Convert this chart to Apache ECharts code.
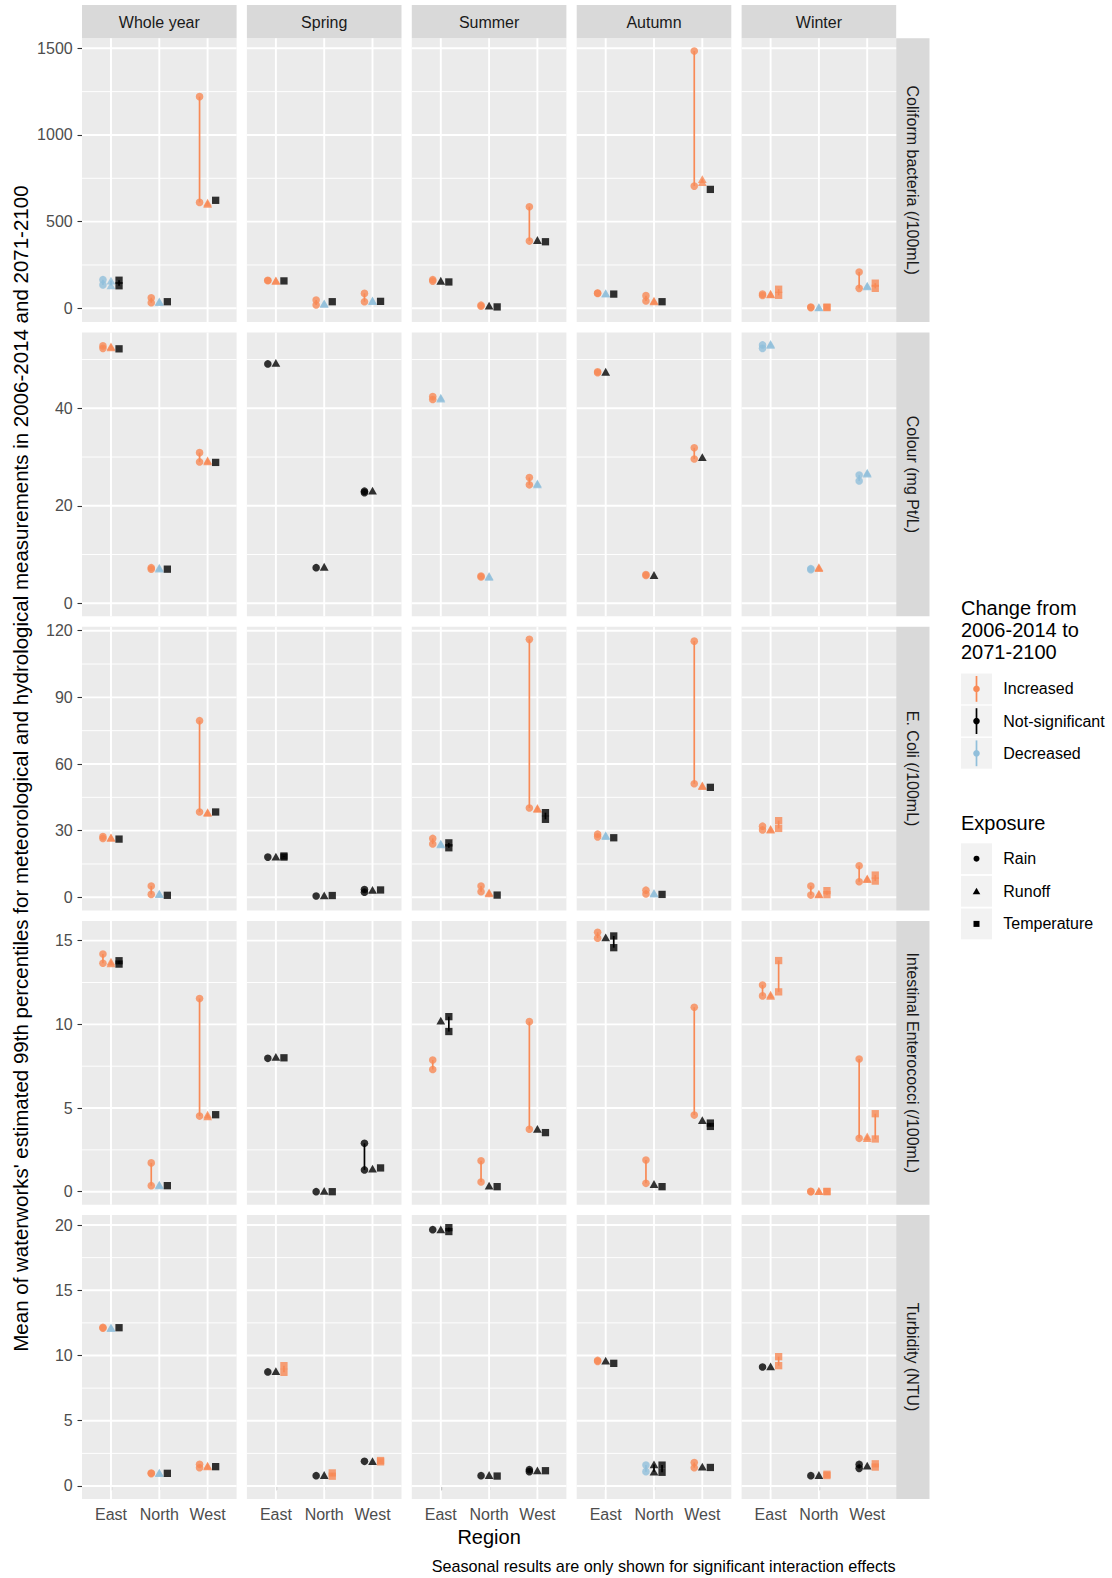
<!DOCTYPE html>
<html>
<head>
<meta charset="utf-8">
<script src="https://cdn.jsdelivr.net/npm/echarts@6/dist/echarts.min.js"></script>
<style>
  html, body { margin: 0; padding: 0; background: #ffffff; }
  #chart { width: 1112px; height: 1578px; }
</style>
</head>
<body>
<div id="chart"></div>
<script>
// ---- categories ----
const regions = ['East', 'North', 'West'];
const periods = ['Whole year', 'Spring', 'Summer', 'Autumn', 'Winter'];
const indicators = ['Coliform bacteria (/100mL)', 'Colour (mg Pt/L)', 'E. Coli (/100mL)',
  'Intestinal Enterococci (/100mL)', 'Turbidity (NTU)'];
const exposures = ['Rain', 'Runoff', 'Temperature'];
const changeLevels = ['Increased', 'Not-significant', 'Decreased'];

// ---- values: [period, region, exposure, mean 2006-2014, mean 2071-2100, change I/N/D] ----
const coliform = [
  ['Whole year','East','Rain',165,135,'D'], ['Whole year','East','Runoff',160,132,'D'], ['Whole year','East','Temperature',162,130,'N'],
  ['Whole year','North','Rain',32,61,'I'], ['Whole year','North','Runoff',40,36,'D'], ['Whole year','North','Temperature',38,38,'N'],
  ['Whole year','West','Rain',611,1221,'I'], ['Whole year','West','Runoff',603,610,'I'], ['Whole year','West','Temperature',623,623,'N'],
  ['Spring','East','Rain',159,162,'I'], ['Spring','East','Runoff',158,161,'I'], ['Spring','East','Temperature',158,158,'N'],
  ['Spring','North','Rain',19,48,'I'], ['Spring','North','Runoff',28,25,'D'], ['Spring','North','Temperature',38,38,'N'],
  ['Spring','West','Rain',38,86,'I'], ['Spring','West','Runoff',45,42,'D'], ['Spring','West','Temperature',40,40,'N'],
  ['Summer','East','Rain',157,165,'I'], ['Summer','East','Runoff',159,159,'N'], ['Summer','East','Temperature',152,152,'N'],
  ['Summer','North','Rain',12,18,'I'], ['Summer','North','Runoff',15,15,'N'], ['Summer','North','Temperature',8,8,'N'],
  ['Summer','West','Rain',388,586,'I'], ['Summer','West','Runoff',394,394,'N'], ['Summer','West','Temperature',384,384,'N'],
  ['Autumn','East','Rain',86,88,'I'], ['Autumn','East','Runoff',88,85,'D'], ['Autumn','East','Temperature',82,82,'N'],
  ['Autumn','North','Rain',42,73,'I'], ['Autumn','North','Runoff',40,44,'I'], ['Autumn','North','Temperature',38,38,'N'],
  ['Autumn','West','Rain',705,1484,'I'], ['Autumn','West','Runoff',728,745,'I'], ['Autumn','West','Temperature',686,686,'N'],
  ['Winter','East','Rain',74,82,'I'], ['Winter','East','Runoff',80,84,'I'], ['Winter','East','Temperature',75,110,'I'],
  ['Winter','North','Rain',4,7,'I'], ['Winter','North','Runoff',7,5,'D'], ['Winter','North','Temperature',4,7,'I'],
  ['Winter','West','Rain',115,209,'I'], ['Winter','West','Runoff',131,127,'D'], ['Winter','West','Temperature',115,145,'I']
];
const colour = [
  ['Whole year','East','Rain',52.3,52.8,'I'], ['Whole year','East','Runoff',52.5,52.7,'I'], ['Whole year','East','Temperature',52.2,52.2,'N'],
  ['Whole year','North','Rain',7.0,7.3,'I'], ['Whole year','North','Runoff',7.3,7.1,'D'], ['Whole year','North','Temperature',7.0,7.0,'N'],
  ['Whole year','West','Rain',29.0,30.9,'I'], ['Whole year','West','Runoff',29.1,29.3,'I'], ['Whole year','West','Temperature',28.9,28.9,'N'],
  ['Spring','East','Rain',49.1,49.1,'N'], ['Spring','East','Runoff',49.3,49.3,'N'],
  ['Spring','North','Rain',7.3,7.3,'N'], ['Spring','North','Runoff',7.5,7.5,'N'],
  ['Spring','West','Rain',22.7,23.0,'N'], ['Spring','West','Runoff',23.1,23.1,'N'],
  ['Summer','East','Rain',41.8,42.4,'I'], ['Summer','East','Runoff',42.2,42.0,'D'],
  ['Summer','North','Rain',5.4,5.6,'I'], ['Summer','North','Runoff',5.6,5.4,'D'],
  ['Summer','West','Rain',24.3,25.8,'I'], ['Summer','West','Runoff',24.6,24.4,'D'],
  ['Autumn','East','Rain',47.3,47.5,'I'], ['Autumn','East','Runoff',47.5,47.5,'N'],
  ['Autumn','North','Rain',5.7,5.9,'I'], ['Autumn','North','Runoff',5.8,5.8,'N'],
  ['Autumn','West','Rain',29.6,31.9,'I'], ['Autumn','West','Runoff',30.0,30.0,'N'],
  ['Winter','East','Rain',53.0,52.3,'D'], ['Winter','East','Runoff',53.2,53.0,'D'],
  ['Winter','North','Rain',7.1,6.9,'D'], ['Winter','North','Runoff',7.2,7.4,'I'],
  ['Winter','West','Rain',26.3,25.1,'D'], ['Winter','West','Runoff',26.8,26.6,'D']
];
const ecoli = [
  ['Whole year','East','Rain',26.5,27.3,'I'], ['Whole year','East','Runoff',26.8,27.0,'I'], ['Whole year','East','Temperature',26.2,26.2,'N'],
  ['Whole year','North','Rain',1.3,5.1,'I'], ['Whole year','North','Runoff',1.7,1.4,'D'], ['Whole year','North','Temperature',0.9,0.9,'N'],
  ['Whole year','West','Rain',38.4,79.5,'I'], ['Whole year','West','Runoff',38.0,38.3,'I'], ['Whole year','West','Temperature',38.4,38.4,'N'],
  ['Spring','East','Rain',18.1,18.1,'N'], ['Spring','East','Runoff',18.3,18.3,'N'], ['Spring','East','Temperature',18.1,18.6,'N'],
  ['Spring','North','Rain',0.6,0.6,'N'], ['Spring','North','Runoff',0.9,0.9,'N'], ['Spring','North','Temperature',0.8,0.8,'N'],
  ['Spring','West','Rain',2.3,3.5,'N'], ['Spring','West','Runoff',3.3,3.3,'N'], ['Spring','West','Temperature',3.3,3.3,'N'],
  ['Summer','East','Rain',24.0,26.5,'I'], ['Summer','East','Runoff',24.2,23.8,'D'], ['Summer','East','Temperature',22.3,24.5,'N'],
  ['Summer','North','Rain',2.5,5.1,'I'], ['Summer','North','Runoff',1.8,2.2,'I'], ['Summer','North','Temperature',1.0,1.0,'N'],
  ['Summer','West','Rain',40.2,116.1,'I'], ['Summer','West','Runoff',39.8,40.2,'I'], ['Summer','West','Temperature',35.1,38.1,'N'],
  ['Autumn','East','Rain',27.2,28.4,'I'], ['Autumn','East','Runoff',28.0,27.6,'D'], ['Autumn','East','Temperature',26.8,26.8,'N'],
  ['Autumn','North','Rain',1.5,3.2,'I'], ['Autumn','North','Runoff',2.0,1.7,'D'], ['Autumn','North','Temperature',1.3,1.3,'N'],
  ['Autumn','West','Rain',51.1,115.3,'I'], ['Autumn','West','Runoff',50.0,50.4,'I'], ['Autumn','West','Temperature',49.5,49.5,'N'],
  ['Winter','East','Rain',30.3,32.0,'I'], ['Winter','East','Runoff',30.5,30.8,'I'], ['Winter','East','Temperature',31.0,34.5,'I'],
  ['Winter','North','Rain',1.0,5.1,'I'], ['Winter','North','Runoff',1.3,1.6,'I'], ['Winter','North','Temperature',1.2,3.0,'I'],
  ['Winter','West','Rain',7.0,14.2,'I'], ['Winter','West','Runoff',8.2,8.5,'I'], ['Winter','West','Temperature',7.3,10.0,'I']
];
const enterococci = [
  ['Whole year','East','Rain',13.65,14.2,'I'], ['Whole year','East','Runoff',13.65,13.75,'I'], ['Whole year','East','Temperature',13.6,13.8,'N'],
  ['Whole year','North','Rain',0.36,1.72,'I'], ['Whole year','North','Runoff',0.42,0.38,'D'], ['Whole year','North','Temperature',0.36,0.36,'N'],
  ['Whole year','West','Rain',4.52,11.54,'I'], ['Whole year','West','Runoff',4.5,4.6,'I'], ['Whole year','West','Temperature',4.6,4.6,'N'],
  ['Spring','East','Rain',7.97,7.97,'N'], ['Spring','East','Runoff',8.05,8.05,'N'], ['Spring','East','Temperature',8.0,8.0,'N'],
  ['Spring','North','Rain',0.0,0.0,'N'], ['Spring','North','Runoff',0.05,0.05,'N'], ['Spring','North','Temperature',0.0,0.0,'N'],
  ['Spring','West','Rain',1.3,2.89,'N'], ['Spring','West','Runoff',1.38,1.38,'N'], ['Spring','West','Temperature',1.42,1.42,'N'],
  ['Summer','East','Rain',7.3,7.87,'I'], ['Summer','East','Runoff',10.22,10.22,'N'], ['Summer','East','Temperature',9.57,10.46,'N'],
  ['Summer','North','Rain',0.58,1.85,'I'], ['Summer','North','Runoff',0.36,0.36,'N'], ['Summer','North','Temperature',0.3,0.3,'N'],
  ['Summer','West','Rain',3.73,10.16,'I'], ['Summer','West','Runoff',3.75,3.75,'N'], ['Summer','West','Temperature',3.53,3.53,'N'],
  ['Autumn','East','Rain',15.15,15.5,'I'], ['Autumn','East','Runoff',15.2,15.2,'N'], ['Autumn','East','Temperature',14.58,15.28,'N'],
  ['Autumn','North','Rain',0.5,1.89,'I'], ['Autumn','North','Runoff',0.46,0.46,'N'], ['Autumn','North','Temperature',0.3,0.3,'N'],
  ['Autumn','West','Rain',4.58,11.02,'I'], ['Autumn','West','Runoff',4.28,4.28,'N'], ['Autumn','West','Temperature',3.9,4.1,'N'],
  ['Winter','East','Rain',11.7,12.35,'I'], ['Winter','East','Runoff',11.7,11.78,'I'], ['Winter','East','Temperature',11.94,13.81,'I'],
  ['Winter','North','Rain',0.0,0.02,'I'], ['Winter','North','Runoff',0.03,0.05,'I'], ['Winter','North','Temperature',0.0,0.02,'I'],
  ['Winter','West','Rain',3.19,7.93,'I'], ['Winter','West','Runoff',3.2,3.3,'I'], ['Winter','West','Temperature',3.15,4.66,'I']
];
const turbidity = [
  ['Whole year','East','Rain',12.1,12.15,'I'], ['Whole year','East','Runoff',12.15,12.1,'D'], ['Whole year','East','Temperature',12.13,12.13,'N'],
  ['Whole year','North','Rain',0.95,0.99,'I'], ['Whole year','North','Runoff',1.02,0.98,'D'], ['Whole year','North','Temperature',0.97,0.97,'N'],
  ['Whole year','West','Rain',1.4,1.66,'I'], ['Whole year','West','Runoff',1.5,1.56,'I'], ['Whole year','West','Temperature',1.48,1.48,'N'],
  ['Spring','East','Rain',8.74,8.74,'N'], ['Spring','East','Runoff',8.81,8.81,'N'], ['Spring','East','Temperature',8.71,9.22,'I'],
  ['Spring','North','Rain',0.79,0.79,'N'], ['Spring','North','Runoff',0.84,0.84,'N'], ['Spring','North','Temperature',0.75,1.0,'I'],
  ['Spring','West','Rain',1.89,1.89,'N'], ['Spring','West','Runoff',1.9,1.9,'N'], ['Spring','West','Temperature',1.85,1.95,'I'],
  ['Summer','East','Rain',19.64,19.64,'N'], ['Summer','East','Runoff',19.67,19.67,'N'], ['Summer','East','Temperature',19.5,19.8,'N'],
  ['Summer','North','Rain',0.79,0.79,'N'], ['Summer','North','Runoff',0.84,0.84,'N'], ['Summer','North','Temperature',0.76,0.76,'N'],
  ['Summer','West','Rain',1.1,1.25,'N'], ['Summer','West','Runoff',1.2,1.2,'N'], ['Summer','West','Temperature',1.17,1.17,'N'],
  ['Autumn','East','Rain',9.55,9.62,'I'], ['Autumn','East','Runoff',9.6,9.6,'N'], ['Autumn','East','Temperature',9.4,9.4,'N'],
  ['Autumn','North','Rain',1.6,1.1,'D'], ['Autumn','North','Runoff',1.1,1.65,'N'], ['Autumn','North','Temperature',1.05,1.6,'N'],
  ['Autumn','West','Rain',1.4,1.8,'I'], ['Autumn','West','Runoff',1.48,1.48,'N'], ['Autumn','West','Temperature',1.42,1.42,'N'],
  ['Winter','East','Rain',9.12,9.12,'N'], ['Winter','East','Runoff',9.17,9.17,'N'], ['Winter','East','Temperature',9.22,9.91,'I'],
  ['Winter','North','Rain',0.79,0.79,'N'], ['Winter','North','Runoff',0.84,0.84,'N'], ['Winter','North','Temperature',0.8,0.9,'I'],
  ['Winter','West','Rain',1.35,1.65,'N'], ['Winter','West','Runoff',1.56,1.56,'N'], ['Winter','West','Temperature',1.45,1.7,'I']
];

// ---- tick labels and axis limits per indicator row ----
const coliformTicks = [0, 500, 1000, 1500];
const colourTicks = [0, 20, 40];
const ecoliTicks = [0, 30, 60, 90, 120];
const enterococciTicks = [0, 5, 10, 15];
const turbidityTicks = [0, 5, 10, 15, 20];
const coliformLimits = [-79.6, 1557.7];
const colourLimits = [-2.67, 55.55];
const ecoliLimits = [-5.94, 121.8];
const enterococciLimits = [-0.777, 16.18];
const turbidityLimits = [-0.99, 20.76];

const rows = [
  { data: coliform, ticks: coliformTicks, limits: coliformLimits },
  { data: colour, ticks: colourTicks, limits: colourLimits },
  { data: ecoli, ticks: ecoliTicks, limits: ecoliLimits },
  { data: enterococci, ticks: enterococciTicks, limits: enterococciLimits },
  { data: turbidity, ticks: turbidityTicks, limits: turbidityLimits }
];

// ---- layout and styling ----
const FONT = '"Liberation Sans", Arial, Helvetica, sans-serif';
const L = { left: 82, top: 38.3, w: 154.6, h: 283.8, dx: 164.9, dy: 294.2, strip: 33.3 };
const X_LIMITS = [0.4, 3.6];
const DODGE = 0.5;
const CHANGE_COLOR = { I: '#F88A56', N: '#000000', D: '#91BFDB' };
const SYMBOLS = ['circle', 'triangle', 'rect'];
const SYMBOL_SIZES = [7.6, [8.8, 7.8], 7.3];

function minorTicks(major, limits) {
  const step = major[1] - major[0];
  const out = [];
  for (let v = major[0] - step / 2; v <= major[major.length - 1] + step / 2 + 1e-9; v += step) {
    if (v > limits[0] && v < limits[1]) out.push(v);
  }
  return out;
}

const grid = [], xAxis = [], yAxis = [], series = [], graphic = [];

rows.forEach((row, r) => {
  const minors = minorTicks(row.ticks, row.limits);
  const bottomRow = r === rows.length - 1;
  periods.forEach((period, c) => {
    const gi = r * periods.length + c;
    grid.push({
      left: L.left + c * L.dx, top: L.top + r * L.dy, width: L.w, height: L.h,
      show: true, backgroundColor: '#EBEBEB', borderWidth: 0,
      containLabel: false, outerBoundsMode: 'none'
    });
    xAxis.push({
      gridIndex: gi, type: 'value', min: X_LIMITS[0], max: X_LIMITS[1],
      axisLine: { show: false }, splitLine: { show: false },
      axisTick: bottomRow
        ? { show: true, length: 4.5, customValues: [1, 2, 3], lineStyle: { color: '#333333', width: 1.1 } }
        : { show: false },
      axisLabel: bottomRow
        ? { show: true, customValues: [1, 2, 3], margin: 8, formatter: v => regions[Math.round(v) - 1],
            color: '#4D4D4D', fontSize: 16, fontFamily: FONT }
        : { show: false }
    });
    yAxis.push({
      gridIndex: gi, type: 'value', min: row.limits[0], max: row.limits[1],
      axisLine: { show: false }, splitLine: { show: false },
      axisTick: c === 0
        ? { show: true, length: 4.5, customValues: row.ticks, lineStyle: { color: '#333333', width: 1.1 } }
        : { show: false },
      axisLabel: c === 0
        ? { show: true, customValues: row.ticks, margin: 9.3, formatter: v => String(v),
            color: '#4D4D4D', fontSize: 16, fontFamily: FONT }
        : { show: false }
    });

    // panel grid lines: [orientation 0 = horizontal / 1 = vertical, value, major flag]
    const lines = row.ticks.map(v => [0, v, 1])
      .concat(minors.map(v => [0, v, 0]))
      .concat([1, 2, 3].map(v => [1, v, 1]));
    series.push({
      type: 'custom', xAxisIndex: gi, yAxisIndex: gi, z: 1, silent: true, animation: false,
      data: lines,
      renderItem: (params, api) => {
        const vertical = api.value(0) === 1, v = api.value(1), major = api.value(2) === 1;
        const p1 = vertical ? api.coord([v, row.limits[0]]) : api.coord([X_LIMITS[0], v]);
        const p2 = vertical ? api.coord([v, row.limits[1]]) : api.coord([X_LIMITS[1], v]);
        return { type: 'line', shape: { x1: p1[0], y1: p1[1], x2: p2[0], y2: p2[1] },
          style: { stroke: '#FFFFFF', lineWidth: major ? 1.9 : 0.95 } };
      }
    });

    const rowsHere = row.data.filter(d => d[0] === period);
    const xOf = d => regions.indexOf(d[1]) + 1 + (exposures.indexOf(d[2]) - 1) * DODGE / exposures.length;

    // change segments between the two periods
    const segs = rowsHere.filter(d => d[3] !== d[4]).map(d => [xOf(d), d[3], d[4], 'IND'.indexOf(d[5])]);
    if (segs.length) {
      series.push({
        type: 'custom', xAxisIndex: gi, yAxisIndex: gi, z: 2, silent: true, animation: false,
        data: segs,
        renderItem: (params, api) => {
          const a = api.coord([api.value(0), api.value(1)]);
          const b = api.coord([api.value(0), api.value(2)]);
          const col = CHANGE_COLOR['IND'[api.value(3)]];
          return { type: 'line', shape: { x1: a[0], y1: a[1], x2: b[0], y2: b[1] },
            style: { stroke: col, lineWidth: 1.7 } };
        }
      });
    }

    // period means, one scatter per exposure shape
    exposures.forEach((ex, j) => {
      const pts = [];
      rowsHere.filter(d => d[2] === ex).forEach(d => {
        const color = CHANGE_COLOR[d[5]];
        pts.push({ value: [xOf(d), d[3]], itemStyle: { color } });
        if (d[4] !== d[3]) pts.push({ value: [xOf(d), d[4]], itemStyle: { color } });
      });
      if (!pts.length) return;
      series.push({
        type: 'scatter', name: ex, xAxisIndex: gi, yAxisIndex: gi, z: 3, silent: true, animation: false,
        symbol: SYMBOLS[j], symbolSize: SYMBOL_SIZES[j], data: pts
      });
    });
  });
});

// ---- facet strips ----
periods.forEach((p, c) => {
  const x = L.left + c * L.dx;
  graphic.push({ type: 'rect', shape: { x: x, y: L.top - L.strip, width: L.w, height: L.strip },
    style: { fill: '#D9D9D9' }, silent: true });
  graphic.push({ type: 'text', x: x + L.w / 2, y: L.top - L.strip / 2 + 0.5,
    style: { text: p, fill: '#1A1A1A', font: '16px ' + FONT, textAlign: 'center', textVerticalAlign: 'middle' }, silent: true });
});
const stripX = L.left + 4 * L.dx + L.w;
indicators.forEach((name, r) => {
  const y = L.top + r * L.dy;
  graphic.push({ type: 'rect', shape: { x: stripX, y: y, width: L.strip, height: L.h },
    style: { fill: '#D9D9D9' }, silent: true });
  graphic.push({ type: 'text', x: stripX + L.strip / 2 - 0.5, y: y + L.h / 2, rotation: -Math.PI / 2,
    style: { text: name, fill: '#1A1A1A', font: '16px ' + FONT, textAlign: 'center', textVerticalAlign: 'middle' }, silent: true });
});

// ---- axis titles and caption ----
const panelsBottom = L.top + 4 * L.dy + L.h;
graphic.push({ type: 'text', x: (L.left + stripX) / 2, y: 1537,
  style: { text: 'Region', fill: '#000000', font: '20px ' + FONT, textAlign: 'center', textVerticalAlign: 'middle' }, silent: true });
graphic.push({ type: 'text', x: 20, y: (L.top + panelsBottom) / 2, rotation: Math.PI / 2,
  style: { text: "Mean of waterworks' estimated 99th percentiles for meteorological and hydrological measurements in 2006-2014 and 2071-2100",
    fill: '#000000', font: '20.5px ' + FONT, textAlign: 'center', textVerticalAlign: 'middle' }, silent: true });
graphic.push({ type: 'text', x: stripX - 0.5, y: 1566,
  style: { text: 'Seasonal results are only shown for significant interaction effects',
    fill: '#000000', font: '16.2px ' + FONT, textAlign: 'right', textVerticalAlign: 'middle' }, silent: true });

// ---- legends ----
const LEG = { x: 961, keyW: 31, keyH: 30.8, step: 32.2, labelX: 1003.3 };
['Change from', '2006-2014 to', '2071-2100'].forEach((t, i) => {
  graphic.push({ type: 'text', x: LEG.x, y: 608 + i * 22,
    style: { text: t, fill: '#000000', font: '20px ' + FONT, textAlign: 'left', textVerticalAlign: 'middle' }, silent: true });
});
changeLevels.forEach((lab, i) => {
  const top = 673.5 + i * LEG.step, cx = LEG.x + LEG.keyW / 2, cy = top + LEG.keyH / 2;
  const col = CHANGE_COLOR['IND'[i]];
  graphic.push({ type: 'rect', shape: { x: LEG.x, y: top, width: LEG.keyW, height: LEG.keyH },
    style: { fill: '#F2F2F2' }, silent: true });
  graphic.push({ type: 'line', shape: { x1: cx, y1: top + 2.5, x2: cx, y2: top + LEG.keyH - 2.5 },
    style: { stroke: col, lineWidth: 1.7 }, silent: true });
  graphic.push({ type: 'circle', shape: { cx: cx, cy: cy, r: 3.3 }, style: { fill: col }, silent: true });
  graphic.push({ type: 'text', x: LEG.labelX, y: cy,
    style: { text: lab, fill: '#000000', font: '16px ' + FONT, textAlign: 'left', textVerticalAlign: 'middle' }, silent: true });
});
graphic.push({ type: 'text', x: LEG.x, y: 823,
  style: { text: 'Exposure', fill: '#000000', font: '20px ' + FONT, textAlign: 'left', textVerticalAlign: 'middle' }, silent: true });
exposures.forEach((lab, i) => {
  const top = 843.3 + i * 32.6, cx = LEG.x + LEG.keyW / 2, cy = top + LEG.keyH / 2;
  graphic.push({ type: 'rect', shape: { x: LEG.x, y: top, width: LEG.keyW, height: LEG.keyH },
    style: { fill: '#F2F2F2' }, silent: true });
  if (i === 0) {
    graphic.push({ type: 'circle', shape: { cx: cx, cy: cy, r: 3 }, style: { fill: '#000' }, silent: true });
  } else if (i === 1) {
    graphic.push({ type: 'polygon', shape: { points: [[cx, cy - 3.6], [cx + 3.8, cy + 3], [cx - 3.8, cy + 3]] },
      style: { fill: '#000' }, silent: true });
  } else {
    graphic.push({ type: 'rect', shape: { x: cx - 3, y: cy - 3, width: 6, height: 6 }, style: { fill: '#000' }, silent: true });
  }
  graphic.push({ type: 'text', x: LEG.labelX, y: cy,
    style: { text: lab, fill: '#000000', font: '16px ' + FONT, textAlign: 'left', textVerticalAlign: 'middle' }, silent: true });
});

const chart = echarts.init(document.getElementById('chart'), null, { renderer: 'svg', width: 1112, height: 1578 });
chart.setOption({
  backgroundColor: '#FFFFFF',
  animation: false,
  textStyle: { fontFamily: FONT },
  grid, xAxis, yAxis, series, graphic
});
</script>
</body>
</html>
